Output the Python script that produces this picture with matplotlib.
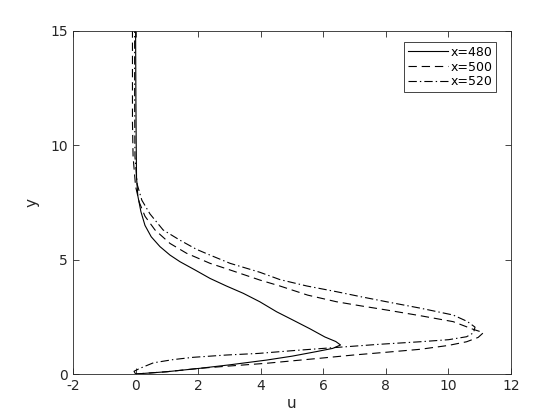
import matplotlib
matplotlib.use('Agg')
import matplotlib.pyplot as plt

# profils de vitesse u(y) a trois stations x
u_480 = [0, 1.0, 2.06, 3.0, 4.19, 5.0, 5.78, 6.3, 6.55, 6.4, 6.05, 5.57, 5.0, 4.51,
         3.97, 3.44, 2.9, 2.38, 1.9, 1.42, 1.1, 0.78, 0.5, 0.3, 0.17, 0.07, 0.03, 0.02,
         0.01, 0.0]
y_480 = [0, 0.1, 0.25, 0.4, 0.61, 0.78, 0.98, 1.12, 1.27, 1.42, 1.62, 1.98, 2.38, 2.72,
         3.16, 3.53, 3.85, 4.18, 4.55, 4.91, 5.2, 5.57, 6.0, 6.5, 7.1, 7.8, 8.6, 10.0,
         12.0, 15.0]

u_500 = [0, 1.0, 2.06, 3.0, 4.19, 5.9, 6.96, 8.0, 9.09, 10.0, 10.58, 10.95, 11.12,
         10.8, 10.15, 9.1, 8.02, 7.2, 6.42, 5.5, 4.61, 3.97, 3.02, 2.38, 1.63, 1.1, 0.62,
         0.3, 0.12, 0.0, -0.08, -0.1, -0.1]
y_500 = [0, 0.1, 0.25, 0.35, 0.47, 0.69, 0.83, 0.95, 1.08, 1.25, 1.41, 1.6, 1.81,
         1.95, 2.29, 2.55, 2.8, 2.98, 3.16, 3.45, 3.85, 4.11, 4.55, 4.84, 5.28, 5.71, 6.3,
         6.9, 7.5, 8.2, 9.5, 11.0, 15.0]

u_520 = [0, -0.05, 0.14, 0.57, 1.2, 1.84, 2.9, 3.92, 5.1, 6.5, 7.8, 9.09, 10.0, 10.58,
         10.8, 10.85, 10.6, 10.15, 9.1, 8.02, 7.2, 6.42, 5.47, 4.61, 3.97, 3.02, 2.38,
         1.95, 1.42, 0.88, 0.46, 0.2, 0.05, -0.02, -0.03, -0.03]
y_520 = [0, 0.12, 0.25, 0.49, 0.63, 0.73, 0.83, 0.9, 1.03, 1.17, 1.3, 1.41, 1.5, 1.63,
         1.8, 2.05, 2.3, 2.58, 2.88, 3.16, 3.38, 3.6, 3.85, 4.13, 4.45, 4.84, 5.2, 5.45,
         5.85, 6.3, 7.0, 7.6, 8.3, 9.5, 12.0, 15.0]

labels = ['x=480', 'x=500', 'x=520']
x_ticks = [-2, 0, 2, 4, 6, 8, 10, 12]
y_ticks = [0, 5, 10, 15]

plt.rcParams['lines.scale_dashes'] = False
plt.rcParams['axes.unicode_minus'] = False
fig = plt.figure(figsize=(5.6, 4.2), dpi=100)
ax = fig.add_axes([0.1304, 0.1095, 0.7821, 0.8167])

ax.plot(u_480, y_480, color='black', lw=0.8, label=labels[0])
ax.plot(u_500, y_500, color='black', lw=0.8, dashes=(6, 3.5), label=labels[1])
ax.plot(u_520, y_520, color='black', lw=0.8, dashes=(6, 2.2, 1, 2.2), label=labels[2])

ax.set_xlim(-2, 12)
ax.set_ylim(0, 15)
ax.set_xticks(x_ticks)
ax.set_yticks(y_ticks)
ax.tick_params(direction='in', top=True, right=True, length=4, width=0.6,
               color='#262626', labelsize=10, labelcolor='#262626')
for s in ax.spines.values():
    s.set_color('#262626')
    s.set_linewidth(0.6)
ax.set_xlabel('u', fontsize=11, color='#262626', labelpad=2)
ax.set_ylabel('y', fontsize=11, color='#262626', labelpad=8)

leg = ax.legend(loc='upper right', fontsize=9, fancybox=False, framealpha=1,
                borderpad=0.3, handlelength=3.2, handletextpad=0.2,
                labelspacing=0.15, borderaxespad=0,
                bbox_to_anchor=(0.966, 0.968))
leg.get_frame().set_edgecolor('#262626')
leg.get_frame().set_linewidth(0.6)

fig.savefig('out.png', dpi=100)
